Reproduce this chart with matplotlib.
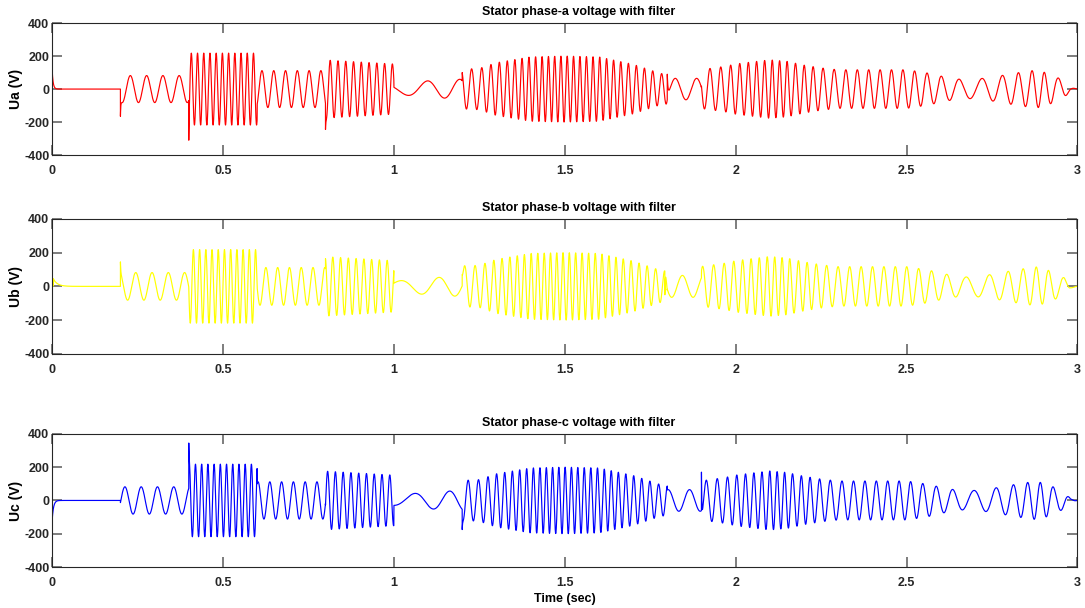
import numpy as np, matplotlib
matplotlib.use("Agg"); import matplotlib.pyplot as plt

plt.rcParams["font.family"] = ["Liberation Sans", "DejaVu Sans"]
plt.rcParams["font.weight"] = "bold"
plt.rcParams["axes.unicode_minus"] = False

# instantaneous frequency knots (s, Hz)
freq_t  = [0.0, 0.2, 0.2, 0.4, 0.4, 0.6, 0.6, 0.8, 0.8, 1.0, 1.0, 1.1, 1.2, 1.2, 1.24, 1.29, 1.34,
           1.40, 1.46, 1.52, 1.57, 1.61, 1.65, 1.69, 1.74, 1.77, 1.8, 1.8, 1.9, 1.9, 1.93, 1.96,
           1.99, 2.04, 2.085, 2.11, 2.15, 2.17, 2.2, 2.225, 2.25, 2.29, 2.35, 2.48, 2.515, 2.55,
           2.59, 2.64, 2.7, 2.77, 2.82, 2.86, 2.9, 2.94, 3.0]
freq_hz = [0, 0, 21, 21, 55, 55, 29, 29, 44, 44, 7, 9.5, 12, 33, 33, 40, 45,
           51, 55, 54, 52, 50, 48, 43, 42, 38, 38, 16, 16, 31, 31, 33,
           37, 41, 43, 47, 45, 38, 40, 37, 33, 29, 30, 30, 29, 27,
           23, 18, 13.5, 18, 23, 26, 29, 21, 20]
# amplitude envelope knots (s, V)
env_t = [0.0, 0.2, 0.2, 0.4, 0.4, 0.6, 0.6, 0.8, 0.8, 1.0, 1.0, 1.1, 1.2, 1.2, 1.25, 1.3, 1.4,
         1.5, 1.6, 1.7, 1.78, 1.8, 1.8, 1.9, 1.9, 1.97, 2.0, 2.05, 2.1, 2.15, 2.2, 2.25, 2.3,
         2.5, 2.53, 2.57, 2.61, 2.67, 2.74, 2.8, 2.84, 2.88, 2.915, 2.962, 2.98, 3.0]
env_v = [0, 0, 82, 82, 218, 218, 112, 112, 176, 152, 30, 50, 60, 120, 125, 160, 195,
         200, 195, 150, 95, 90, 65, 65, 118, 138, 152, 165, 177, 168, 145, 128, 117,
         117, 108, 94, 74, 55, 68, 90, 104, 115, 95, 50, 10, 0]
# switching transients per phase: (time s, peak value V, decay s)
spikes_a = [(0.0, 122, 0.003), (0.2, -165, 0.001), (0.4, -310, 0.001), (0.8, -245, 0.001),
            (1.2, 100, 0.002), (1.8, 90, 0.002)]
spikes_b = [(0.0, 130, 0.001), (0.004, 45, 0.012), (0.2, 145, 0.001), (1.2, 70, 0.002),
            (1.793, -50, 0.001)]
spikes_c = [(0.0, -125, 0.004), (0.4, 345, 0.001), (1.2, -175, 0.001), (1.9, 170, 0.001)]
phase_shift = {"a": -2.26, "b": -2.26 - 2*np.pi/3, "c": -2.26 + 2*np.pi/3}

t = np.linspace(0, 3, 30001)
f = np.interp(t, freq_t, freq_hz)
A = np.interp(t, env_t, env_v)
ph = 2*np.pi*np.concatenate([[0], np.cumsum(0.5*(f[1:]+f[:-1])*np.diff(t))])

def wave(shift, spikes):
    v = A*np.sin(ph + shift)
    for t0, peak, tau in spikes:
        i = np.searchsorted(t, t0)
        v[i:] += (peak - v[i])*np.exp(-(t[i:]-t[i])/tau)
    return v

panels = [("a", "Ua (V)", "#ff0000", spikes_a, [0.048, 0.745, 0.945, 0.217]),
          ("b", "Ub (V)", "#ffff00", spikes_b, [0.048, 0.418, 0.945, 0.222]),
          ("c", "Uc (V)", "#0000ff", spikes_c, [0.048, 0.0674, 0.945, 0.219])]

fig = plt.figure(figsize=(10.85, 6.08), dpi=100)
for k, lab, col, sp, pos in panels:
    ax = fig.add_axes(pos)
    ax.plot(t, wave(phase_shift[k], sp), color=col, lw=0.85)
    ax.set_xlim(0, 3); ax.set_ylim(-400, 400)
    ax.set_xticks([0, 0.5, 1, 1.5, 2, 2.5, 3]); ax.set_xticklabels(["0", "0.5", "1", "1.5", "2", "2.5", "3"])
    ax.set_yticks([-400, -200, 0, 200, 400])
    ax.tick_params(direction="in", top=True, right=True, length=7, width=1.1, color="#5a5a5a",
                   labelcolor="#262626", labelsize=9)
    ax.tick_params(axis="x", pad=7); ax.tick_params(axis="y", pad=2)
    for s in ax.spines.values():
        s.set_color("#262626"); s.set_linewidth(0.8)
    ax.set_ylabel(lab, fontsize=10, fontweight="bold", labelpad=1)
    ax.set_title("Stator phase-%s voltage with filter" % k, fontsize=9, fontweight="bold", x=0.514, pad=6)
ax.set_xlabel("Time (sec)", fontsize=9, fontweight="bold", labelpad=3)
fig.savefig("out.png", dpi=100)
